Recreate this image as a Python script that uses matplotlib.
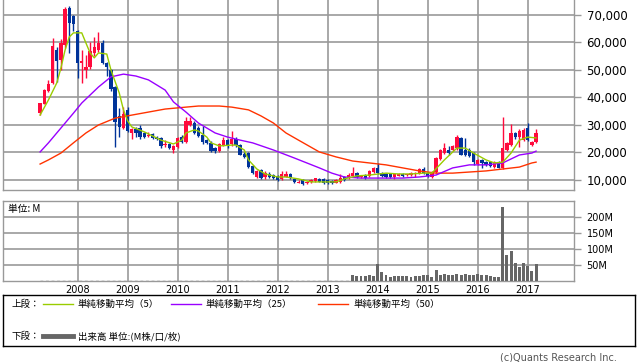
"""
Monthly candlestick chart with 5/25/50 moving averages and volume (Apr 2007 - Mar 2017).
"""

import numpy as np
import pandas as pd
import matplotlib

matplotlib.use("Agg")
import matplotlib.pyplot as plt
from matplotlib.lines import Line2D
from matplotlib.ticker import FuncFormatter

plt.rcParams["font.family"] = ["DejaVu Sans", "Noto Sans CJK JP"]

# ---- data ----
months = pd.date_range("2007-04-01", periods=120, freq="MS")

open_ = [34400, 37800, 42400, 45300, 57300, 53600, 59100, 72500, 69600, 64200,
         52500, 50000, 51100, 56200, 57300, 59800, 52500, 50000, 43800, 33300,
         28900, 35500, 27100, 28500, 28900, 27100, 26000, 26700, 25600, 25300,
         22800, 23100, 20900, 22000, 25600, 23800, 30000, 30700, 28900, 26400,
         24500, 23500, 21600, 20500, 22700, 24500, 23100, 24900, 22700, 19500,
         19800, 15100, 11100, 13600, 11100, 12200, 11800, 11500, 10400, 11100,
         12200, 10400, 9000, 10000, 9000, 9300, 9600, 10400, 10400, 10000,
         9600, 9000, 9300, 11100, 10700, 11500, 12500, 11100, 11800, 11500,
         12900, 14400, 12500, 12200, 12200, 11100, 11600, 12200, 11800, 11800,
         12000, 12200, 14000, 12500, 11100, 12900, 17600, 19800, 20900, 20900,
         21600, 25300, 20900, 20900, 19800, 15800, 17200, 16500, 16500, 14700,
         16500, 14400, 20900, 22700, 27100, 25600, 24500, 28900, 22700, 23800]
high = [38000, 43200, 46400, 61600, 58400, 61300, 73000, 73300, 70000, 64500,
        57300, 55400, 60200, 62000, 63800, 60900, 53000, 50500, 44000, 36000,
        36500, 36500, 28800, 29400, 30000, 27500, 27500, 27100, 26000, 25600,
        24500, 23500, 22800, 25800, 26400, 32900, 33000, 31500, 29600, 29600,
        25000, 24000, 22000, 23500, 25600, 24800, 27800, 25500, 23000, 20000,
        20000, 15500, 13800, 13900, 13300, 12800, 12000, 11800, 13300, 13300,
        12500, 10700, 10000, 10300, 9600, 10500, 10800, 10600, 10600, 10300,
        9900, 10300, 12000, 11400, 12500, 14700, 12800, 11800, 12200, 13600,
        14800, 16200, 12900, 12600, 12500, 12600, 12500, 12700, 12300, 12800,
        12900, 14300, 14700, 12800, 13200, 18300, 21300, 23500, 22500, 22800,
        26400, 25600, 25300, 21500, 20000, 17500, 17500, 16800, 16800, 17000,
        16800, 32900, 23800, 30400, 27500, 28500, 29000, 30700, 24200, 28500]
low = [33700, 37500, 42000, 45000, 45600, 50000, 58000, 56200, 64000, 47000,
       45300, 47100, 50500, 55100, 56500, 52000, 47800, 42500, 22000, 25600,
       28500, 27500, 24900, 25600, 25000, 25200, 25500, 25000, 24500, 21600,
       21900, 21200, 19800, 21800, 23500, 23500, 29500, 26800, 25500, 23200,
       23000, 20000, 19800, 20200, 22400, 21600, 22400, 22000, 19000, 18000,
       14200, 12200, 10800, 10500, 10500, 10800, 10400, 9800, 10000, 11000,
       10400, 9000, 8800, 8300, 8500, 9000, 9300, 9100, 8700, 8600,
       8600, 8800, 9000, 9800, 10500, 11200, 10800, 10800, 10500, 11200,
       12600, 12200, 11200, 10900, 10800, 10400, 11300, 11100, 11500, 11500,
       11000, 12000, 12200, 11000, 10900, 12700, 17300, 19500, 19000, 20600,
       21000, 19000, 18800, 18400, 15500, 15500, 14400, 15000, 14800, 14400,
       14200, 14000, 20500, 22400, 25000, 22000, 24200, 24200, 22300, 23500]
close = [38000, 42700, 44900, 58700, 53300, 59800, 72000, 67100, 66700, 52500,
         53300, 51100, 56900, 58400, 59800, 52500, 51100, 43100, 31100, 29300,
         34000, 27800, 28500, 27100, 25600, 25600, 26500, 25300, 24900, 22400,
         23100, 21600, 22400, 25300, 23800, 31500, 31500, 27100, 26000, 23800,
         23500, 20500, 20500, 23100, 24500, 22700, 24900, 22700, 19100, 18400,
         14700, 12500, 13300, 10700, 12500, 11100, 10700, 10000, 12200, 12200,
         10700, 9300, 9300, 8500, 9300, 10000, 10700, 9300, 9000, 8900,
         8900, 10000, 10700, 10000, 11800, 12500, 11100, 11300, 10700, 13300,
         14400, 12500, 11500, 11100, 11100, 12200, 12000, 11400, 12000, 12500,
         12600, 14000, 12500, 11300, 12900, 18000, 20900, 21600, 19800, 22400,
         25600, 19100, 19100, 18700, 16500, 17200, 16000, 15500, 15100, 16500,
         14400, 21600, 23500, 27100, 25600, 27800, 28200, 24500, 23800, 27100]

# volume (millions) is shown only from month 75 (Jul 2013) onward
vol_start = 75
volume_m = [17.7, 14.6, 14.6, 14.6, 17.7, 14.6, 52, 28, 17.7, 12.5,
            14.6, 14.6, 14.6, 14.6, 12.5, 14.6, 14.6, 17.7, 17.7, 12.5,
            33, 17.7, 20.8, 17.7, 17.7, 20.8, 17.7, 20.8, 17.7, 17.7,
            20.8, 17.7, 17.7, 14.6, 12.5, 12.5, 231, 80, 93, 56,
            44, 56, 46, 31, 52]

# moving averages sampled at month indices
ma5_idx = [0, 2, 4, 5, 6, 7, 8, 10, 11, 12, 13, 14, 16, 17, 19, 20, 21, 22, 25,
           27, 29, 32, 34, 35, 37, 38, 40, 41, 43, 46, 47, 49, 50, 52, 54, 57, 59,
           62, 65, 67, 71, 73, 76, 79, 83, 86, 89, 92, 94, 97, 100, 102, 104, 107,
           109, 111, 113, 115, 117, 119]
ma5 = [33600, 39100, 45300, 50700, 57300, 62000, 63500, 63500, 59800, 56200,
       54400, 56200, 55800, 50000, 41600, 35500, 31500, 29300, 27500, 26000,
       24500, 23100, 24500, 27100, 28200, 27800, 25600, 23500, 22400, 22700,
       22700, 20900, 17300, 14000, 12200, 11100, 11100, 10400, 9300, 9300,
       9300, 10400, 11500, 11800, 12500, 12200, 12200, 12500, 12500, 17300,
       21600, 21600, 19800, 17300, 16200, 16500, 19800, 24500, 25600, 25300]
ma25_idx = [0, 2, 5, 8, 10, 14, 17, 20, 23, 26, 30, 32, 35, 38, 42, 45, 48, 51,
            56, 61, 64, 67, 70, 73, 77, 83, 87, 91, 95, 99, 103, 107, 111, 115,
            118, 119]
ma25 = [20200, 23500, 28900, 34300, 38000, 43800, 47500, 48500, 47800, 46400,
        42700, 38400, 34700, 30700, 27100, 25600, 24500, 23500, 20900, 18000,
        16200, 14400, 12500, 11100, 10700, 10700, 10700, 11100, 11800, 14400,
        15500, 15500, 16200, 19100, 19800, 20500]
ma50_idx = [0, 2, 5, 8, 11, 14, 18, 22, 26, 30, 35, 38, 43, 46, 50, 53, 56, 59,
            62, 67, 71, 75, 79, 83, 87, 91, 95, 99, 103, 107, 111, 115, 118, 119]
ma50 = [15800, 17300, 19800, 23500, 27100, 30000, 32500, 33600, 34700, 35800,
        36500, 36900, 36900, 36500, 35500, 33300, 30700, 27100, 24500, 20200,
        18400, 16900, 16200, 15500, 14400, 13300, 12500, 12500, 12900, 13300,
        14000, 14700, 16200, 16500]

price_ticks = [10000, 20000, 30000, 40000, 50000, 60000, 70000]
vol_ticks = [50, 100, 150, 200]

UP = "#ff0a3c"
DOWN = "#003399"
GRID = "#999999"


def style_axes(ax):
    for side in ("left", "right", "bottom", "top"):
        ax.spines[side].set_color(GRID)
        ax.spines[side].set_linewidth(1.0)
    ax.grid(True, color=GRID, linewidth=1.2)
    ax.set_axisbelow(True)
    ax.yaxis.tick_right()
    ax.tick_params(axis="y", length=5, color=GRID, width=1, pad=4)


def main() -> None:
    W, H = 638, 362
    fig = plt.figure(figsize=(W / 100, H / 100), dpi=100)

    x = np.arange(len(months))
    year_pos = [i for i, m in enumerate(months) if m.month == 1]
    year_lab = [str(months[i].year) for i in year_pos]
    xlim = (-8.9, 128.1)

    # ---- price panel ----
    ax = fig.add_axes([3 / W, 1 - 190 / H, 571 / W, 190 / H])
    style_axes(ax)
    ax.spines["top"].set_visible(False)
    o = np.array(open_)
    c = np.array(close)
    up = c >= o
    cols = np.where(up, UP, DOWN)
    ax.vlines(x, low, high, colors=cols, linewidth=1.0, zorder=2)
    body_lo = np.minimum(o, c)
    body_h = np.maximum(np.abs(c - o), 150)
    ax.bar(x, body_h, bottom=body_lo, width=0.8, color=cols, linewidth=0, zorder=3)

    ax.plot(ma50_idx, ma50, color="#ff3300", linewidth=1.0, zorder=4)
    ax.plot(ma25_idx, ma25, color="#9900ff", linewidth=1.0, zorder=4)
    ax.plot(ma5_idx, ma5, color="#99cc00", linewidth=1.0, zorder=4)

    ax.set_xlim(*xlim)
    ax.set_ylim(6364, 75450)
    ax.set_xticks(year_pos)
    ax.tick_params(axis="x", length=0, labelbottom=False)
    ax.set_yticks(price_ticks)
    ax.yaxis.set_major_formatter(FuncFormatter(lambda v, p: f"{v:,.0f}"))
    ax.tick_params(axis="y", labelsize=8.5)

    # ---- volume panel ----
    av = fig.add_axes([3 / W, 1 - 281 / H, 571 / W, 80 / H])
    style_axes(av)
    vx = x[vol_start:vol_start + len(volume_m)]
    av.bar(vx, volume_m, width=0.7, color="#666666", linewidth=0, zorder=3)
    av.hlines(0.6, 0, vol_start - 1, colors="#777777", linestyles=(0, (2, 2)),
              linewidth=1, zorder=3)
    av.set_xlim(*xlim)
    av.set_ylim(0, 249)
    av.set_yticks(vol_ticks)
    av.set_yticklabels([f"{v}M" for v in vol_ticks])
    av.tick_params(axis="y", labelsize=7)
    av.set_xticks(year_pos)
    av.set_xticklabels(year_lab)
    av.tick_params(axis="x", length=0, labelsize=7, pad=3)
    av.text(0.008, 0.9, "単位: M", transform=av.transAxes, fontsize=7,
            va="center", ha="left", family=["Noto Sans CJK JP", "DejaVu Sans"])

    # ---- legend box ----
    al = fig.add_axes([3 / W, 1 - 346 / H, 632 / W, 51 / H])
    al.set_xlim(0, 632)
    al.set_ylim(51, 0)
    al.set_xticks([])
    al.set_yticks([])
    for side in al.spines.values():
        side.set_color("black")
        side.set_linewidth(1.0)
    jp = ["Noto Sans CJK JP", "DejaVu Sans"]
    fs = 6.8
    al.text(9, 9, "上段：", fontsize=fs, va="center", family=jp)
    entries = [(40, "#99cc00", "単純移動平均（5）"),
               (168, "#9900ff", "単純移動平均（25）"),
               (315, "#ff3300", "単純移動平均（50）")]
    for x0, col, lab in entries:
        al.add_line(Line2D([x0, x0 + 30], [9, 9], color=col, linewidth=1.0))
        al.text(x0 + 35, 9, lab, fontsize=fs, va="center", family=jp)
    al.text(9, 41, "下段：", fontsize=fs, va="center", family=jp)
    al.add_line(Line2D([40, 70], [41, 41], color="#666666", linewidth=3.5))
    al.text(75, 41, "出来高 単位:(M株/口/枚)", fontsize=fs, va="center", family=jp)

    fig.text(617 / W, 1 - 357 / H, "(c)Quants Research Inc.", fontsize=7,
             color="#555555", ha="right", va="center")

    fig.savefig("out.png", dpi=100)


if __name__ == "__main__":
    main()
